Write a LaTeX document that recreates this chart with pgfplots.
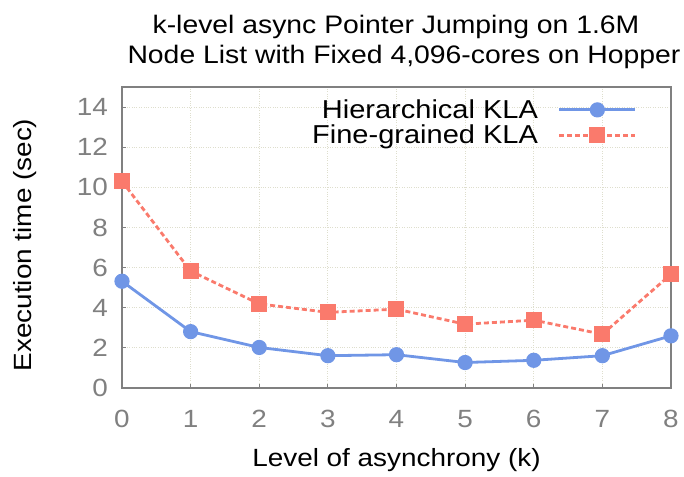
\documentclass[border=0pt]{standalone}
\usepackage{pgfplots}
\pgfplotsset{compat=1.18}
\usepackage{fontspec}
\setmainfont[FakeStretch=1.12]{Liberation Sans}

\definecolor{klablue}{RGB}{112,150,230}
\definecolor{klared}{RGB}{250,122,108}
\definecolor{axgray}{RGB}{128,128,128}
\definecolor{gridc}{RGB}{222,222,205}

\pgfplotstableread{
k  hier  fine
0  5.32  10.30
1  2.81  5.83
2  2.02  4.19
3  1.61  3.77
4  1.66  3.93
5  1.27  3.18
6  1.38  3.38
7  1.61  2.68
8  2.60  5.67
}\klatable

\begin{document}
\begin{tikzpicture}
\useasboundingbox (-122bp,-89bp) rectangle (562bp,388bp);
\begin{axis}[
  scale only axis,
  width=549bp, height=301bp,
  xmin=0, xmax=8, ymin=0, ymax=15,
  xtick={0,...,8}, ytick={0,2,...,14},
  /pgf/number format/assume math mode=true,
  axis line style={axgray, line width=1.2pt},
  tick style={axgray, line width=0.8pt},
  major tick length=4bp,
  xtick pos=bottom, ytick pos=left,
  tick align=inside,
  grid=major,
  grid style={gridc, dotted, line width=0.8pt},
  tick label style={font=\fontsize{25}{30}\selectfont, text=axgray},
  xticklabel style={anchor=base, yshift=-39bp},
  yticklabel style={anchor=east, inner sep=0pt, xshift=-14bp},
  xlabel={Level of asynchrony (k)},
  ylabel={Execution time (sec)},
  label style={font=\fontsize{25}{30}\selectfont},
  xlabel style={at={(axis description cs:0.5,0)}, anchor=base, yshift=-78bp},
  ylabel style={at={(axis description cs:-0.1767,0.475)}, anchor=center, rotate=0},
  legend style={draw=none, fill=none, font=\fontsize{26}{31}\selectfont,
    at={(axis description cs:0.938,0.965)}, anchor=north east,
    inner sep=0pt, row sep=1bp},
  legend cell align=right,
  legend plot pos=right,
  legend image code/.code={
    \path (0bp,0bp);
    \draw[mark repeat=2, mark phase=2, #1] plot coordinates {(18bp,0bp) (56bp,0bp) (94bp,0bp)};
  },
]
\addplot[klablue, line width=2.8bp, mark=*, mark size=6.2bp, mark options={solid}]
  table[x=k, y=hier] {\klatable};
\addlegendentry{Hierarchical KLA}
\addplot[klared, line width=2.8bp, dash pattern=on 5bp off 3bp, mark=square*, mark size=6.6bp, mark options={solid}]
  table[x=k, y=fine] {\klatable};
\addlegendentry{Fine-grained KLA}
\end{axis}
\node[anchor=base, font=\fontsize{25.4}{30}\selectfont] at (274bp,354bp) {k-level async Pointer Jumping on 1.6M};
\node[anchor=base, font=\fontsize{25.4}{30}\selectfont] at (282bp,324bp) {Node List with Fixed 4,096-cores on Hopper};
\end{tikzpicture}
\end{document}
